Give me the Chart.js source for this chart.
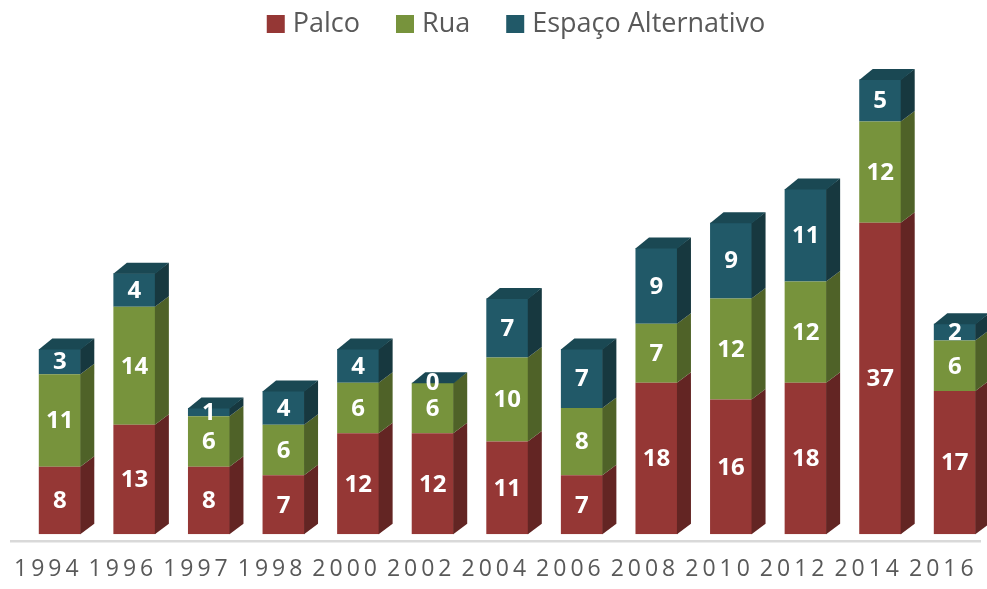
<!DOCTYPE html>
<html>
<head>
<meta charset="utf-8">
<script src="https://cdn.jsdelivr.net/npm/chart.js@4.4.1/dist/chart.umd.min.js"></script>
<style>
  html, body { margin: 0; padding: 0; background: #fff; overflow: hidden; }
</style>
</head>
<body>
<canvas id="chart" width="987" height="589"></canvas>
<script>
const years = ['1994', '1996', '1997', '1998', '2000', '2002', '2004', '2006', '2008', '2010', '2012', '2014', '2016'];
const palco = [8, 13, 8, 7, 12, 12, 11, 7, 18, 16, 18, 37, 17];
const rua = [11, 14, 6, 6, 6, 6, 10, 8, 7, 12, 12, 12, 6];
const alternativo = [3, 4, 1, 4, 4, 0, 7, 7, 9, 9, 11, 5, 2];

// colours for front / side / top of each series
const faces = [
  { front: '#953735', side: '#632523', top: '#7a2c2a' },
  { front: '#77933c', side: '#4f6228', top: '#5f7630' },
  { front: '#215968', side: '#17383f', top: '#1a4853' },
];

// fake 3D: bars are pushed up/right off the floor, depth goes back-right
const SHIFT_X = 11.5, SHIFT_Y = -7.5;
const DEPTH_X = 13.5, DEPTH_Y = -10.5;
const LEGEND_CENTER = 516;

const bars3d = {
  id: 'bars3d',
  beforeDraw(chart) {
    chart.ctx.letterSpacing = '4px'; // spaced out year labels
  },
  beforeDatasetsDraw(chart) {
    const ctx = chart.ctx;
    ctx.letterSpacing = '0px';
    ctx.save();
    ctx.translate(SHIFT_X, SHIFT_Y);
  },
  afterDatasetsDraw(chart) {
    const ctx = chart.ctx;
    const n = chart.data.datasets.length;

    chart.data.datasets.forEach((ds, di) => {
      const meta = chart.getDatasetMeta(di);
      meta.data.forEach((bar) => {
        const { x, y, base, width } = bar.getProps(['x', 'y', 'base', 'width'], true);
        const l = x - width / 2, r = x + width / 2;

        ctx.fillStyle = faces[di].side;
        ctx.beginPath();
        ctx.moveTo(r - 0.5, y);
        ctx.lineTo(r + DEPTH_X, y + DEPTH_Y);
        ctx.lineTo(r + DEPTH_X, base + DEPTH_Y);
        ctx.lineTo(r - 0.5, base);
        ctx.closePath();
        ctx.fill();

        if (di === n - 1) {
          ctx.fillStyle = faces[di].top;
          ctx.beginPath();
          ctx.moveTo(l, y + 0.5);
          ctx.lineTo(l + DEPTH_X, y + DEPTH_Y);
          ctx.lineTo(r + DEPTH_X, y + DEPTH_Y);
          ctx.lineTo(r, y + 0.5);
          ctx.closePath();
          ctx.fill();
        }
      });
    });

    // value labels
    ctx.font = 'bold 24px "Open Sans"';
    ctx.fillStyle = '#ffffff';
    ctx.textAlign = 'center';
    ctx.textBaseline = 'middle';
    chart.data.datasets.forEach((ds, di) => {
      chart.getDatasetMeta(di).data.forEach((bar, i) => {
        const { x, y, base } = bar.getProps(['x', 'y', 'base'], true);
        ctx.fillText(String(ds.data[i]), x, (y + base) / 2 + 1);
      });
    });

    ctx.restore();
  },
  afterDraw(chart) {
    const ctx = chart.ctx;
    ctx.save();
    ctx.letterSpacing = '0px';
    ctx.font = '27px "Open Sans"';
    ctx.textBaseline = 'alphabetic';
    ctx.textAlign = 'left';
    const box = 18, gapText = 8, gapItem = 36;
    const items = chart.data.datasets.map((ds, i) => ({
      text: ds.label, color: faces[i].front, w: ctx.measureText(ds.label).width,
    }));
    const total = items.reduce((s, it) => s + box + gapText + it.w, 0) + gapItem * (items.length - 1);
    let x = LEGEND_CENTER - total / 2;
    items.forEach((it) => {
      ctx.fillStyle = it.color;
      ctx.fillRect(x, 15, box, box);
      ctx.fillStyle = '#595959';
      ctx.fillText(it.text, x + box + gapText, 32);
      x += box + gapText + it.w + gapItem;
    });
    ctx.restore();
  },
};

new Chart(document.getElementById('chart'), {
  type: 'bar',
  data: {
    labels: years,
    datasets: [
      { label: 'Palco', data: palco, backgroundColor: faces[0].front },
      { label: 'Rua', data: rua, backgroundColor: faces[1].front },
      { label: 'Espaço Alternativo', data: alternativo, backgroundColor: faces[2].front },
    ],
  },
  options: {
    responsive: false,
    animation: false,
    datasets: {
      bar: { categoryPercentage: 1, barPercentage: 0.563, borderWidth: 0 },
    },
    layout: { padding: { left: 11, right: 6.4, top: 36.5, bottom: 7.9 } },
    plugins: {
      legend: { display: false },
      tooltip: { enabled: false },
    },
    scales: {
      x: {
        stacked: true,
        grid: { display: false },
        border: { display: true, color: '#d9d9d9', width: 2.5 },
        ticks: {
          color: '#595959',
          font: { family: 'Open Sans', size: 23 },
          padding: 6,
          autoSkip: false,
          maxRotation: 0,
        },
        afterFit(scale) {
          scale.height = 39.4;
        },
      },
      y: { stacked: true, display: false, min: 0, max: 60 },
    },
  },
  plugins: [bars3d],
});
</script>
</body>
</html>
